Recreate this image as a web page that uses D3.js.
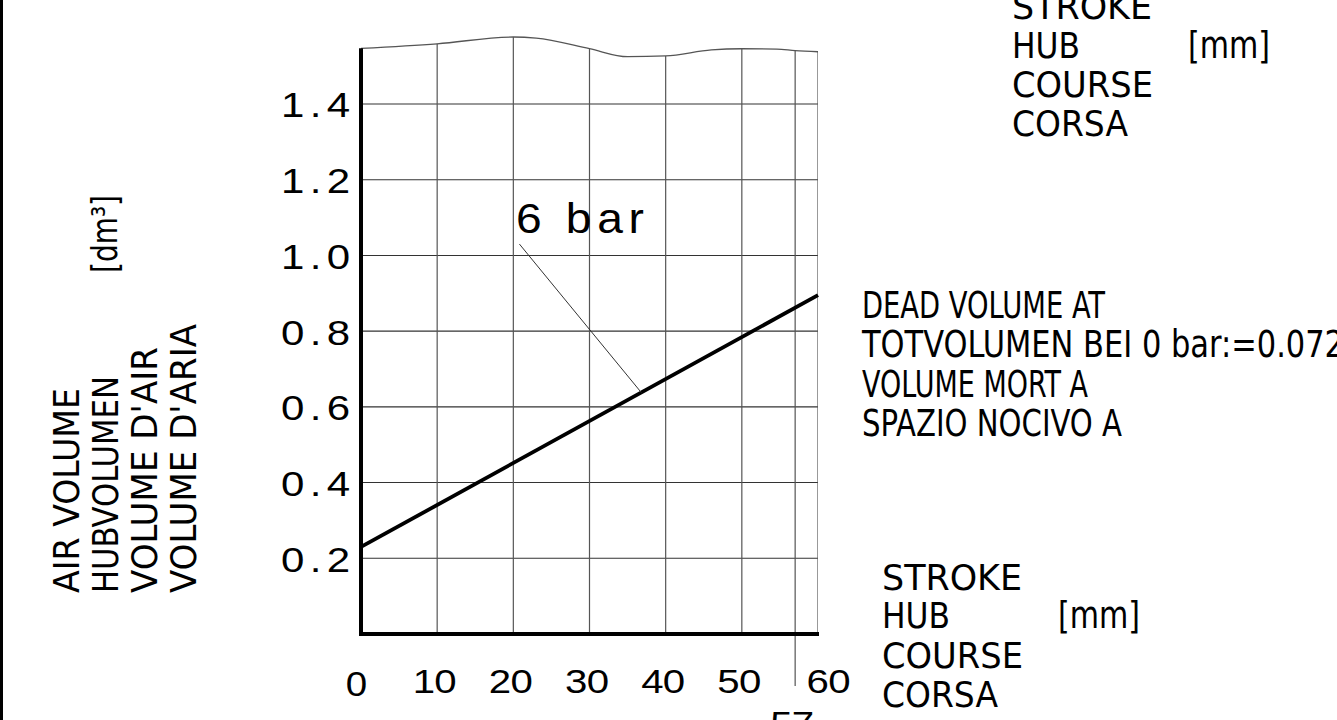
<!DOCTYPE html>
<html><head><meta charset="utf-8">
<script src="https://cdn.jsdelivr.net/npm/d3@7"></script>
<style>html,body{margin:0;padding:0;background:#fff;overflow:hidden}</style>
</head><body>
<svg id="chart" width="1337" height="720"></svg>
<script>
// ---------- data ----------
const strokeMm = [0, 60];
const airVolume6bar = [0.23, 0.895];
const xTicks = [0, 10, 20, 30, 40, 50, 60];
const xTickLabels = ["0", "10", "20", "30", "40", "50", "60"];
const yTicks = [0.2, 0.4, 0.6, 0.8, 1.0, 1.2, 1.4];
const yTickLabels = ["0.2", "0.4", "0.6", "0.8", "1.0", "1.2", "1.4"];
const markStroke = 57;
const markLabel = "57";
const breakX = [0, 10, 20, 23, 30, 35, 40, 46, 50, 54.6, 57, 60];
const breakY = [1.547, 1.559, 1.577, 1.574, 1.546, 1.525, 1.527, 1.543, 1.546, 1.545, 1.541, 1.538];
const yTitleLines = ["AIR VOLUME", "HUBVOLUMEN", "VOLUME D'AIR", "VOLUME D'ARIA"];
const yUnit = "[dm³]";
const xTitleLines = ["STROKE", "HUB", "COURSE", "CORSA"];
const xUnit = "[mm]";
const noteLines = ["DEAD VOLUME AT", "TOTVOLUMEN BEI 0 bar:=0.072", "VOLUME MORT A", "SPAZIO NOCIVO A"];
const seriesLabel = "6 bar";
const seriesLabelAt = [20.8, 1.03]; // leader start (mm, dm³)
const seriesLeaderTo = 36.8;        // mm on the curve

// ---------- layout ----------
const svg = d3.select("#chart");
const W = 1337, H = 720;
const x = d3.scaleLinear().domain([0, 60]).range([361, 818]);
const y = d3.scaleLinear().domain([0, 1.4]).range([634, 104]);
const CAD = '"Liberation Sans Narrow","DejaVu Sans Condensed","Liberation Sans",sans-serif';
const NUM = '"Liberation Sans",Arial,sans-serif';
const SX = 1.2; // horizontal widening of numeric glyphs

svg.append("rect").attr("width", W).attr("height", H).attr("fill", "#fff");
svg.append("rect").attr("x", 0).attr("y", 0).attr("width", 3).attr("height", H).attr("fill", "#000");

const wave = breakX.map((d, i) => [d, breakY[i]]);

const defs = svg.append("defs");
defs.append("clipPath").attr("id", "under")
  .append("path")
  .attr("d", d3.area().x(d => x(d[0])).y0(H).y1(d => y(d[1])).curve(d3.curveMonotoneX)(wave));

const g = svg.append("g");
g.selectAll("line.hg").data(yTicks).join("line")
  .attr("x1", x(0)).attr("x2", x(60))
  .attr("y1", d => y(d)).attr("y2", d => y(d))
  .attr("stroke", "#333").attr("stroke-width", 1.1);
const vg = g.append("g").attr("clip-path", "url(#under)");
vg.selectAll("line.vg").data(xTicks.filter(d => d > 0)).join("line")
  .attr("x1", d => x(d)).attr("x2", d => x(d))
  .attr("y1", y(0)).attr("y2", y(1.7))
  .attr("stroke", "#555").attr("stroke-width", 1.2);
vg.append("line")
  .attr("x1", x(markStroke)).attr("x2", x(markStroke))
  .attr("y1", y(0) + 52).attr("y2", y(1.7))
  .attr("stroke", "#555").attr("stroke-width", 1.2);

g.append("path")
  .attr("d", d3.line().x(d => x(d[0])).y(d => y(d[1])).curve(d3.curveMonotoneX)(wave))
  .attr("fill", "none").attr("stroke", "#555").attr("stroke-width", 1.3);

g.append("line").attr("x1", x(0)).attr("x2", x(0)).attr("y1", y(0) + 2).attr("y2", y(breakY[0]))
  .attr("stroke", "#000").attr("stroke-width", 4);
g.append("line").attr("x1", x(0)).attr("x2", x(60) + 1).attr("y1", y(0)).attr("y2", y(0))
  .attr("stroke", "#000").attr("stroke-width", 4);

// y axis labels
const ya = svg.append("g").attr("transform", `translate(${x(0)},0)`)
  .call(d3.axisLeft(y).tickValues(yTicks).tickFormat((d, i) => yTickLabels[i]).tickSize(0).tickPadding(11));
ya.select(".domain").remove();
ya.selectAll("text").attr("font-family", NUM).attr("font-size", 35).attr("fill", "#000")
  .attr("x", -11 / SX).attr("transform", `scale(${SX},1)`)
  .attr("dy", "0.37em").attr("textLength", 69 / SX).attr("lengthAdjust", "spacing");

// x axis labels
const xa = svg.append("g").attr("transform", `translate(0,${y(0)})`)
  .call(d3.axisBottom(x).tickValues(xTicks).tickFormat((d, i) => xTickLabels[i]).tickSize(0));
xa.select(".domain").remove();
xa.selectAll(".tick").each(function(d) {
  const t = d3.select(this).select("text");
  t.attr("font-family", NUM).attr("fill", "#000")
    .attr("dy", 0)
    .attr("y", d === 0 ? 62 : 59)
    .attr("font-size", d === 0 ? 35 : 33.5);
  const off = d === 0 ? -5 : (d === 60 ? 10 : -3);
  if (d === 0) {
    t.attr("x", off / 1.1).attr("transform", "scale(1.1,1)");
  } else {
    t.attr("x", off / SX).attr("transform", `scale(${SX},1)`)
      .attr("textLength", 44 / SX).attr("lengthAdjust", "spacing");
  }
});
svg.append("g").attr("transform", `translate(${x(markStroke) - 3},${y(0) + 101}) scale(${SX},1)`)
  .append("text").attr("text-anchor", "middle").attr("font-family", NUM).attr("font-size", 33.5)
  .attr("textLength", 44 / SX).attr("lengthAdjust", "spacing").text(markLabel);

// series line
g.append("path")
  .attr("d", d3.line().x((d, i) => x(strokeMm[i])).y(d => y(d))(airVolume6bar))
  .attr("fill", "none").attr("stroke", "#000").attr("stroke-width", 3.8);

// series label + leader
const lineAt = v => airVolume6bar[0] + (airVolume6bar[1] - airVolume6bar[0]) * (v - strokeMm[0]) / (strokeMm[1] - strokeMm[0]);
svg.append("line")
  .attr("x1", x(seriesLabelAt[0])).attr("y1", y(seriesLabelAt[1]))
  .attr("x2", x(seriesLeaderTo)).attr("y2", y(lineAt(seriesLeaderTo)))
  .attr("stroke", "#333").attr("stroke-width", 1);
svg.append("g").attr("transform", `translate(516,233) scale(1.1,1)`)
  .append("text")
  .attr("font-family", NUM).attr("font-size", 42).attr("textLength", 128 / 1.1).attr("lengthAdjust", "spacing")
  .text(seriesLabel);

function cad(txt, px, py, size, len, rot) {
  const t = svg.append("text")
    .attr("font-family", CAD).attr("font-size", size).attr("fill", "#000")
    .attr("textLength", len).attr("lengthAdjust", "spacingAndGlyphs").text(txt);
  if (rot) t.attr("transform", `translate(${px},${py}) rotate(-90)`);
  else t.attr("x", px).attr("y", py);
  return t;
}

// y title (rotated)
const yTitleBase = [79, 118, 157, 196];
const yTitleLen = [205, 217, 246, 269];
yTitleLines.forEach((s, i) => cad(s, yTitleBase[i], 593, 36, yTitleLen[i], true));
cad(yUnit, 117, 273, 36, 78, true);

// x title blocks
const xTitleLen = [140, 68, 141, 116];
const blocks = [{x0: 1012, base: [19, 58, 97, 136]}, {x0: 882, base: [590, 628, 668, 707]}];
blocks.forEach(b => {
  xTitleLines.forEach((s, i) => cad(s, b.x0, b.base[i], 36, xTitleLen[i], false));
  cad(xUnit, b.x0 + 176, b.base[1], 38, 82, false);
});

// dead volume note
const noteBase = [318, 357, 397, 436];
const noteLen = [243, 482, 226, 260];
noteLines.forEach((s, i) => cad(s, 862, noteBase[i], 37, noteLen[i], false));
</script>
</body></html>
